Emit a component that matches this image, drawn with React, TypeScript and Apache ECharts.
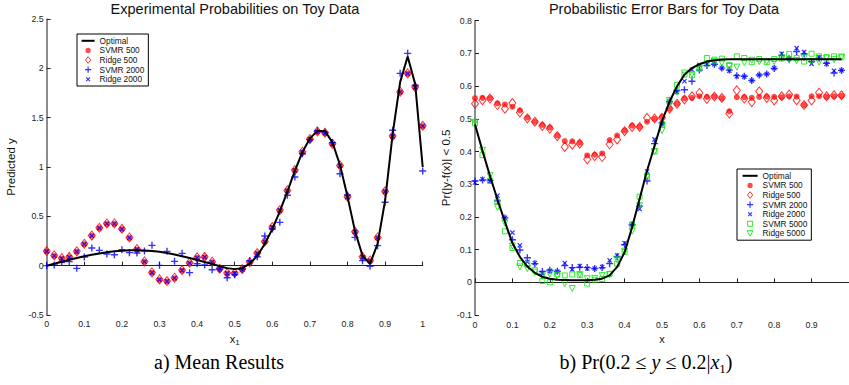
import React, { useEffect, useRef } from "react";
import * as echarts from "echarts";

// ---------- Left chart: Experimental Probabilities on Toy Data ----------
const X_LEFT = [
  0, 0.02, 0.04, 0.06, 0.08, 0.1, 0.12, 0.14, 0.16, 0.18, 0.2, 0.22, 0.24, 0.26, 0.28, 0.3, 0.32,
  0.34, 0.36, 0.38, 0.4, 0.42, 0.44, 0.46, 0.48, 0.5, 0.52, 0.54, 0.56, 0.58, 0.6, 0.62, 0.64, 0.66,
  0.68, 0.7, 0.72, 0.74, 0.76, 0.78, 0.8, 0.82, 0.84, 0.86, 0.88, 0.9, 0.92, 0.94, 0.96, 0.98, 1,
];
const LEFT_OPTIMAL = [
  0, 0.02, 0.04, 0.06, 0.078, 0.095, 0.11, 0.124, 0.136, 0.145, 0.151, 0.155, 0.156, 0.154, 0.149,
  0.14, 0.128, 0.113, 0.096, 0.077, 0.057, 0.037, 0.017, -0.005, -0.025, -0.035, -0.025, 0.02, 0.1,
  0.22, 0.37, 0.55, 0.75, 0.96, 1.15, 1.29, 1.365, 1.365, 1.25, 1.02, 0.7, 0.35, 0.1, 0.02, 0.22,
  0.66, 1.33, 1.86, 2.12, 1.84, 1.0,
];
const LEFT_SVMR500 = [
  0.142, 0.098, 0.071, 0.084, 0.139, 0.216, 0.301, 0.378, 0.422, 0.422, 0.368, 0.28, 0.162, 0.037,
  -0.074, -0.145, -0.162, -0.128, -0.051, 0.024, 0.078, 0.084, 0.034, -0.037, -0.081, -0.081,
  -0.041, 0.03, 0.122, 0.24, 0.385, 0.557, 0.757, 0.963, 1.149, 1.277, 1.355, 1.341, 1.23, 1.01,
  0.693, 0.338, 0.084, 0.047, 0.28, 0.747, 1.307, 1.757, 1.943, 1.804, 1.412,
];
const LEFT_RIDGE500 = [
  0.148, 0.104, 0.076, 0.09, 0.145, 0.222, 0.305, 0.384, 0.428, 0.428, 0.374, 0.286, 0.168, 0.043,
  -0.068, -0.139, -0.156, -0.122, -0.045, 0.03, 0.084, 0.09, 0.04, -0.031, -0.075, -0.075, -0.035,
  0.036, 0.128, 0.246, 0.391, 0.563, 0.763, 0.969, 1.155, 1.283, 1.361, 1.347, 1.236, 1.016, 0.699,
  0.344, 0.09, 0.053, 0.286, 0.753, 1.313, 1.763, 1.949, 1.81, 1.418,
];
const LEFT_SVMR2000 = [
  0.0, 0.007, 0.034, 0.041, -0.027, 0.088, 0.179, 0.155, 0.118, 0.111, 0.162, 0.132, 0.128, 0.149,
  0.206, 0.003, 0.145, 0.044, 0.125, -0.071, 0.02, 0.007, -0.041, -0.034, -0.122, -0.091, -0.037,
  0.051, 0.091, 0.301, 0.372, 0.439, 0.713, 0.899, 1.135, 1.277, 1.368, 1.351, 1.247, 0.932, 0.716,
  0.287, 0.051, -0.007, 0.203, 0.642, 1.372, 1.949, 2.152, 1.828, 0.959,
];
const LEFT_RIDGE2000 = [
  0.145, 0.1, 0.073, 0.086, 0.142, 0.219, 0.303, 0.381, 0.425, 0.425, 0.371, 0.283, 0.165, 0.04,
  -0.071, -0.142, -0.159, -0.125, -0.048, 0.027, 0.081, 0.087, 0.037, -0.034, -0.078, -0.078,
  -0.038, 0.033, 0.125, 0.243, 0.388, 0.56, 0.76, 0.966, 1.152, 1.28, 1.358, 1.344, 1.233, 1.013,
  0.696, 0.341, 0.087, 0.05, 0.283, 0.75, 1.31, 1.76, 1.946, 1.807, 1.415,
];

// ---------- Right chart: Probabilistic Error Bars for Toy Data ----------
const X_RIGHT = [
  0, 0.02, 0.04, 0.06, 0.08, 0.1, 0.12, 0.14, 0.16, 0.18, 0.2, 0.22, 0.24, 0.26, 0.28, 0.3, 0.32,
  0.34, 0.36, 0.38, 0.4, 0.42, 0.44, 0.46, 0.48, 0.5, 0.52, 0.54, 0.56, 0.58, 0.6, 0.62, 0.64, 0.66,
  0.68, 0.7, 0.72, 0.74, 0.76, 0.78, 0.8, 0.82, 0.84, 0.86, 0.88, 0.9, 0.92, 0.94, 0.96, 0.98,
];
const RIGHT_OPTIMAL = [
  0.483, 0.402, 0.326, 0.253, 0.185, 0.12, 0.078, 0.048, 0.029, 0.017, 0.011, 0.008, 0.007, 0.006,
  0.006, 0.006, 0.008, 0.011, 0.021, 0.047, 0.092, 0.168, 0.255, 0.341, 0.417, 0.493, 0.552, 0.599,
  0.635, 0.655, 0.667, 0.675, 0.679, 0.681, 0.682, 0.682, 0.682, 0.682, 0.682, 0.682, 0.682, 0.682,
  0.682, 0.682, 0.682, 0.682, 0.682, 0.682, 0.682, 0.682,
];
const RIGHT_SVMR500 = [
  0.563, 0.564, 0.563, 0.547, 0.544, 0.537, 0.526, 0.504, 0.491, 0.481, 0.473, 0.449, 0.432, 0.431,
  0.427, 0.388, 0.39, 0.394, 0.435, 0.449, 0.464, 0.479, 0.476, 0.491, 0.5, 0.506, 0.531, 0.546,
  0.562, 0.564, 0.569, 0.567, 0.568, 0.563, 0.523, 0.566, 0.566, 0.564, 0.567, 0.568, 0.567, 0.566,
  0.569, 0.568, 0.542, 0.569, 0.569, 0.567, 0.569, 0.57,
];
const RIGHT_RIDGE500 = [
  0.546, 0.557, 0.562, 0.542, 0.531, 0.548, 0.519, 0.501, 0.491, 0.478, 0.47, 0.447, 0.414, 0.421,
  0.424, 0.376, 0.386, 0.383, 0.422, 0.437, 0.462, 0.475, 0.475, 0.503, 0.501, 0.503, 0.531, 0.546,
  0.559, 0.569, 0.579, 0.561, 0.568, 0.564, 0.516, 0.587, 0.562, 0.551, 0.584, 0.564, 0.556, 0.569,
  0.574, 0.557, 0.542, 0.556, 0.58, 0.569, 0.572, 0.572,
];
const RIGHT_SVMR2000 = [
  0.31, 0.313, 0.312, 0.249, 0.197, 0.13, 0.099, 0.075, 0.057, 0.033, 0.037, 0.034, 0.051, 0.045,
  0.046, 0.045, 0.042, 0.045, 0.057, 0.079, 0.115, 0.176, 0.233, 0.31, 0.424, 0.487, 0.552, 0.586,
  0.589, 0.615, 0.649, 0.663, 0.667, 0.655, 0.649, 0.632, 0.63, 0.617, 0.634, 0.637, 0.654, 0.694,
  0.684, 0.706, 0.698, 0.675, 0.685, 0.67, 0.64, 0.648,
];
const RIGHT_RIDGE2000 = [
  0.305, 0.315, 0.31, 0.265, 0.197, 0.152, 0.113, 0.062, 0.059, 0.028, 0.035, 0.033, 0.059, 0.039,
  0.05, 0.042, 0.042, 0.047, 0.067, 0.082, 0.12, 0.178, 0.224, 0.339, 0.437, 0.486, 0.552, 0.582,
  0.615, 0.65, 0.665, 0.667, 0.667, 0.655, 0.647, 0.63, 0.629, 0.617, 0.634, 0.637, 0.655, 0.699,
  0.684, 0.716, 0.704, 0.668, 0.688, 0.668, 0.647, 0.648,
];
const RIGHT_SVMR5000 = [
  0.486, 0.389, 0.31, 0.247, 0.156, 0.105, 0.059, 0.055, 0.037, 0.004, 0.0, 0.024, 0.021, 0.024,
  0.022, -0.004, 0.008, 0.01, 0.026, 0.057, 0.093, 0.176, 0.262, 0.322, 0.4, 0.483, 0.552, 0.604,
  0.635, 0.633, 0.653, 0.686, 0.681, 0.684, 0.665, 0.691, 0.686, 0.673, 0.683, 0.673, 0.683, 0.684,
  0.698, 0.686, 0.675, 0.699, 0.691, 0.688, 0.691, 0.688,
];
const RIGHT_RIDGE5000 = [
  0.489, 0.404, 0.326, 0.229, 0.181, 0.111, 0.047, 0.042, 0.031, 0.019, 0.025, 0.019, -0.004,
  -0.019, 0.024, 0.011, 0.012, 0.021, 0.023, 0.069, 0.095, 0.156, 0.234, 0.322, 0.4, 0.464, 0.556,
  0.582, 0.64, 0.635, 0.655, 0.665, 0.675, 0.67, 0.66, 0.658, 0.672, 0.679, 0.675, 0.675, 0.675,
  0.686, 0.679, 0.678, 0.686, 0.675, 0.673, 0.686, 0.681, 0.689,
];

const LEFT_LEGEND = ["Optimal", "SVMR 500", "Ridge 500", "SVMR 2000", "Ridge 2000"];
const RIGHT_LEGEND = [
  "Optimal",
  "SVMR 500",
  "Ridge 500",
  "SVMR 2000",
  "Ridge 2000",
  "SVMR 5000",
  "Ridge 5000",
];

const SANS = '"Liberation Sans", Arial, Helvetica, sans-serif';
const SERIF = '"Liberation Serif", "Times New Roman", serif';
const PLUS = "path://M4,0H6V4H10V6H6V10H4V6H0V4H4Z";
const RED = "#ff1a1a";
const BLUE = "#0000ff";
const GREEN = "#00e600";

const zip = (xs: number[], ys: number[]) => xs.map((x, i) => [x, ys[i]]);

const styleFor: Record<string, any> = {
  Optimal: {
    type: "line",
    symbol: "none",
    lineStyle: { color: "#000", width: 2 },
    itemStyle: { color: "#000" },
  },
  "SVMR 500": { type: "scatter", symbol: "circle", symbolSize: 6, itemStyle: { color: RED } },
  "Ridge 500": {
    type: "scatter",
    symbol: "diamond",
    symbolSize: [7, 9],
    itemStyle: { color: "transparent", borderColor: "#ff0000", borderWidth: 1 },
  },
  "SVMR 2000": { type: "scatter", symbol: PLUS, symbolSize: 7, itemStyle: { color: BLUE } },
  "Ridge 2000": {
    type: "scatter",
    symbol: PLUS,
    symbolSize: 6,
    symbolRotate: 45,
    itemStyle: { color: BLUE },
  },
  "SVMR 5000": {
    type: "scatter",
    symbol: "rect",
    symbolSize: 5,
    itemStyle: { color: "transparent", borderColor: GREEN, borderWidth: 1 },
  },
  "Ridge 5000": {
    type: "scatter",
    symbol: "triangle",
    symbolRotate: 180,
    symbolSize: 6,
    itemStyle: { color: "transparent", borderColor: GREEN, borderWidth: 1 },
  },
};

// legend icons: invisible move-to corners fix the icon box so shapes keep their size
function legendItems(names: string[], w: number) {
  const c = w / 2;
  const box = `M0,0M${w},7`;
  const icons: Record<string, any> = {
    Optimal: { icon: `path://${box}M0,2.5H${w}V4.5H0Z`, itemStyle: { color: "#000" } },
    "SVMR 500": {
      icon: `path://${box}M${c - 2.6},3.5A2.6,2.6,0,1,1,${c + 2.6},3.5A2.6,2.6,0,1,1,${c - 2.6},3.5Z`,
      itemStyle: { color: RED },
    },
    "Ridge 500": {
      icon: `path://${box}M${c},0.2L${c + 2.6},3.5L${c},6.8L${c - 2.6},3.5Z`,
      itemStyle: { color: "transparent", borderColor: "#ff0000", borderWidth: 1 },
    },
    "SVMR 2000": {
      icon: `path://${box}M${c - 0.6},0.4H${c + 0.6}V2.9H${c + 3.1}V4.1H${c + 0.6}V6.6H${c - 0.6}V4.1H${c - 3.1}V2.9H${c - 0.6}Z`,
      itemStyle: { color: BLUE },
    },
    "Ridge 2000": {
      icon: `path://${box}M${c - 1.9},1.6L${c + 1.9},5.4M${c + 1.9},1.6L${c - 1.9},5.4`,
      itemStyle: { color: "transparent", borderColor: BLUE, borderWidth: 1.2 },
    },
    "SVMR 5000": {
      icon: `path://${box}M${c - 2.5},1H${c + 2.5}V6H${c - 2.5}Z`,
      itemStyle: { color: "transparent", borderColor: GREEN, borderWidth: 1 },
    },
    "Ridge 5000": {
      icon: `path://${box}M${c - 3},0.8H${c + 3}L${c},6.3Z`,
      itemStyle: { color: "transparent", borderColor: GREEN, borderWidth: 1 },
    },
  };
  return names.map((n) => ({ name: n, ...icons[n] }));
}

function mk(name: string, idx: number, xs: number[], ys: number[]) {
  return {
    name,
    xAxisIndex: idx,
    yAxisIndex: idx,
    data: zip(xs, ys),
    silent: true,
    ...styleFor[name],
  };
}

const axisCommon = {
  splitLine: { show: false },
  axisTick: { inside: true, length: 4, lineStyle: { color: "#222", width: 1 } },
  axisLabel: { fontSize: 8.8, color: "#222", fontFamily: SANS },
};

const legendCommon = {
  orient: "vertical",
  itemGap: 0,
  itemHeight: 7,
  selectedMode: false,
  borderColor: "#000",
  borderWidth: 1,
  backgroundColor: "#fff",
  symbolKeepAspect: true,
  textStyle: { fontSize: 8.3, fontFamily: SANS, color: "#111", lineHeight: 9.6 },
};

export default function App() {
  const ref = useRef<HTMLDivElement>(null);
  useEffect(() => {
    document.body.style.margin = "0";
    const chart = echarts.init(ref.current!, null, { renderer: "svg" });
    const option: any = {
      animation: false,
      backgroundColor: "#fff",
      grid: [
        { left: 46.7, top: 19, width: 376, height: 296 },
        { left: 475, top: 20.7, width: 375.5, height: 294.3 },
      ],
      xAxis: [
        {
          ...axisCommon,
          type: "value",
          gridIndex: 0,
          min: 0,
          max: 1,
          interval: 0.1,
          axisLine: { lineStyle: { color: "#222", width: 1.2 } },
          axisLabel: { ...axisCommon.axisLabel, margin: 4 },
          name: "{a|x}{b|1}",
          nameLocation: "middle",
          nameGap: 16,
          nameTextStyle: {
            rich: {
              a: { fontSize: 11, fontFamily: SANS, color: "#111", lineHeight: 15 },
              b: { fontSize: 8, fontFamily: SANS, color: "#111", lineHeight: 15, verticalAlign: "bottom" },
            },
          },
        },
        {
          ...axisCommon,
          type: "value",
          gridIndex: 1,
          min: 0,
          max: 1,
          interval: 0.1,
          axisLine: { lineStyle: { color: "#222", width: 1.2 } },
          axisLabel: { ...axisCommon.axisLabel, margin: 5, showMaxLabel: false },
          name: "x",
          nameLocation: "middle",
          nameGap: 18,
          nameTextStyle: { fontSize: 11, fontFamily: SANS, color: "#111" },
        },
      ],
      yAxis: [
        {
          ...axisCommon,
          type: "value",
          gridIndex: 0,
          min: -0.5,
          max: 2.5,
          interval: 0.5,
          axisLine: { show: true, lineStyle: { color: "#666", width: 1.5 } },
          axisLabel: { ...axisCommon.axisLabel, margin: 3 },
          name: "Predicted y",
          nameLocation: "middle",
          nameRotate: 90,
          nameGap: 30,
          nameTextStyle: { fontSize: 11.5, fontFamily: SANS, color: "#111" },
        },
        {
          ...axisCommon,
          type: "value",
          gridIndex: 1,
          min: -0.1,
          max: 0.8,
          interval: 0.1,
          axisLine: { show: true, lineStyle: { color: "#666", width: 1.5 } },
          axisLabel: { ...axisCommon.axisLabel, margin: 3 },
          name: "Pr(|y-f(x)| < 0.5",
          nameLocation: "middle",
          nameRotate: 90,
          nameGap: 23,
          nameTextStyle: { fontSize: 11.5, fontFamily: SANS, color: "#111" },
        },
      ],
      legend: [
        {
          ...legendCommon,
          data: legendItems(LEFT_LEGEND, 13),
          left: 77,
          top: 34,
          padding: [2, 4, 2, 4],
          itemWidth: 13,
        },
        {
          ...legendCommon,
          data: legendItems(RIGHT_LEGEND, 15),
          left: 737,
          top: 169,
          padding: [2, 4, 2, 5],
          itemWidth: 15,
        },
      ],
      series: [
        mk("Optimal", 0, X_LEFT, LEFT_OPTIMAL),
        mk("SVMR 500", 0, X_LEFT, LEFT_SVMR500),
        mk("Ridge 500", 0, X_LEFT, LEFT_RIDGE500),
        mk("SVMR 2000", 0, X_LEFT, LEFT_SVMR2000),
        mk("Ridge 2000", 0, X_LEFT, LEFT_RIDGE2000),
        mk("Optimal", 1, X_RIGHT, RIGHT_OPTIMAL),
        mk("SVMR 500", 1, X_RIGHT, RIGHT_SVMR500),
        mk("Ridge 500", 1, X_RIGHT, RIGHT_RIDGE500),
        mk("SVMR 2000", 1, X_RIGHT, RIGHT_SVMR2000),
        mk("Ridge 2000", 1, X_RIGHT, RIGHT_RIDGE2000),
        mk("SVMR 5000", 1, X_RIGHT, RIGHT_SVMR5000),
        mk("Ridge 5000", 1, X_RIGHT, RIGHT_RIDGE5000),
      ],
      graphic: [
        {
          type: "text",
          x: 235,
          y: 9,
          style: {
            text: "Experimental Probabilities on Toy Data",
            font: `14.5px ${SANS}`,
            fill: "#111",
            align: "center",
            verticalAlign: "middle",
          },
        },
        {
          type: "text",
          x: 664,
          y: 9,
          style: {
            text: "Probabilistic Error Bars for Toy Data",
            font: `14.5px ${SANS}`,
            fill: "#111",
            align: "center",
            verticalAlign: "middle",
          },
        },
        {
          type: "text",
          x: 219,
          y: 362,
          style: {
            text: "a) Mean Results",
            font: `20px ${SERIF}`,
            fill: "#000",
            align: "center",
            verticalAlign: "middle",
          },
        },
        {
          type: "text",
          x: 646,
          y: 362,
          style: {
            text: "{n|b) Pr(0.2 ≤ }{i|y}{n| ≤ 0.2|}{i|x}{s|1}{n|)}",
            align: "center",
            verticalAlign: "middle",
            fill: "#000",
            rich: {
              n: { fontSize: 20, fontFamily: SERIF, lineHeight: 26 },
              i: { fontSize: 20, fontFamily: SERIF, fontStyle: "italic", lineHeight: 26 },
              s: { fontSize: 13, fontFamily: SERIF, lineHeight: 26, verticalAlign: "bottom" },
            },
          },
        },
      ],
    };
    chart.setOption(option);
    return () => chart.dispose();
  }, []);
  return (
    <div
      ref={ref}
      style={{ position: "absolute", left: 0, top: 0, width: 849, height: 385, background: "#fff" }}
    />
  );
}
